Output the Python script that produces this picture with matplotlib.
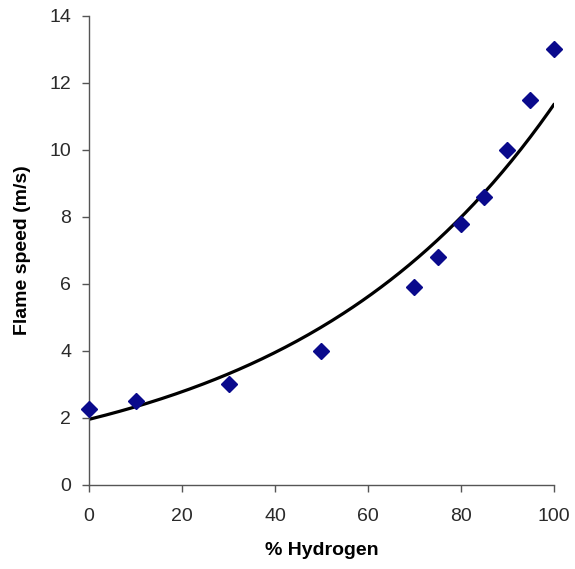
import matplotlib
matplotlib.use("Agg")
from matplotlib import pyplot as plt
import numpy as np

# % hydrogen vs measured flame speed (m/s)
hydrogen = [0, 10, 30, 50, 70, 75, 80, 85, 90, 95, 100]
flame_speed = [2.25, 2.5, 3.0, 4.0, 5.9, 6.8, 7.8, 8.6, 10.0, 11.5, 13.0]

plt.rcParams['font.family'] = ['Liberation Sans', 'DejaVu Sans']

fig = plt.figure(figsize=(5.75, 5.69), dpi=100)
ax = fig.add_axes([0.155, 0.148, 0.808, 0.824])

# exponential trendline fitted to the data
b, ln_a = np.polyfit(hydrogen, np.log(flame_speed), 1)
xs = np.linspace(0, 100, 200)
ax.plot(xs, np.exp(ln_a) * np.exp(b * xs), color='black', lw=2.3, zorder=2)

ax.plot(hydrogen, flame_speed, linestyle='none', marker='D', markersize=8,
        color='#0a0a8c', zorder=3, clip_on=False)

ax.set_xlim(0, 100)
ax.set_ylim(0, 14)
ax.set_xticks(range(0, 101, 20))
ax.set_yticks(range(0, 15, 2))
ax.set_xlabel('% Hydrogen', fontsize=14, fontweight='bold', labelpad=12)
ax.set_ylabel('Flame speed (m/s)', fontsize=14, fontweight='bold', labelpad=13)

for side in ['top', 'right']:
    ax.spines[side].set_visible(False)
for side in ['left', 'bottom']:
    ax.spines[side].set_color('#555555')
    ax.spines[side].set_linewidth(1.0)
ax.tick_params(direction='out', length=5, width=1.0, color='#555555',
               labelsize=14, labelcolor='#2a2a2a')
ax.tick_params(axis='x', pad=12)
ax.tick_params(axis='y', pad=8)

fig.savefig('out.png', dpi=100)
